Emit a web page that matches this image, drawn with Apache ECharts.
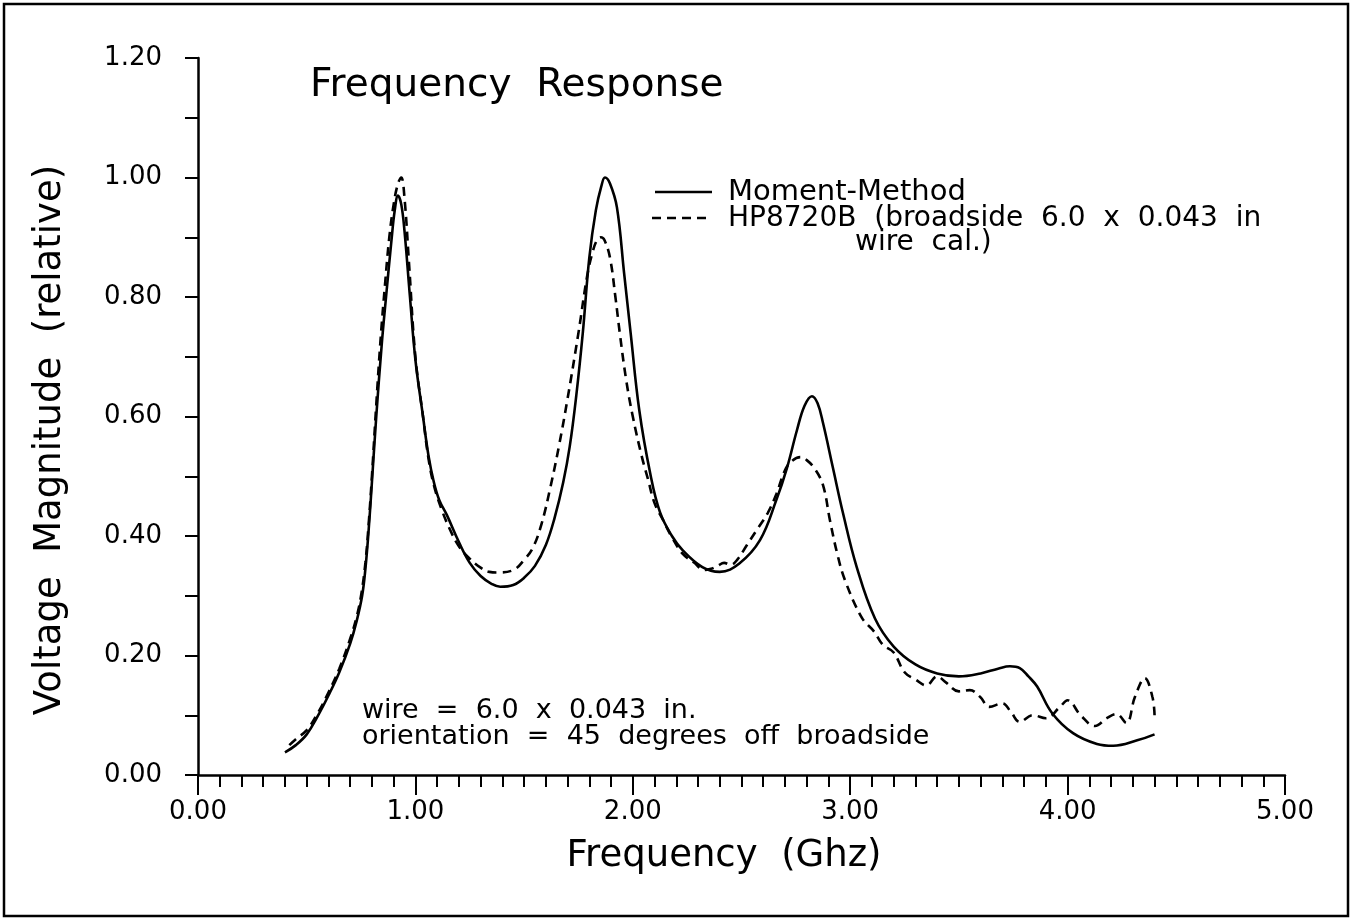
<!DOCTYPE html>
<html>
<head>
<meta charset="utf-8">
<script src="https://cdn.jsdelivr.net/npm/echarts@6/dist/echarts.min.js"></script>
<style>
  html, body { margin: 0; padding: 0; background: #ffffff; }
  #chart { width: 1351px; height: 919px; }
</style>
</head>
<body>
<div id="chart"></div>
<script>
// Computed response (moment method), frequency in GHz vs relative voltage
const momentFreq = [0.40, 0.45, 0.50, 0.55, 0.60, 0.65, 0.70, 0.73, 0.755, 0.77, 0.785, 0.80, 0.82, 0.845, 0.865, 0.89, 0.905, 0.92, 0.935, 0.95, 0.975, 1.00, 1.035, 1.06, 1.085, 1.11, 1.145, 1.20, 1.25, 1.30, 1.35, 1.39, 1.45, 1.50, 1.55, 1.60, 1.64, 1.68, 1.71, 1.74, 1.77, 1.80, 1.83, 1.855, 1.872, 1.895, 1.927, 1.96, 1.99, 2.03, 2.08, 2.125, 2.18, 2.23, 2.32, 2.40, 2.49, 2.585, 2.66, 2.71, 2.755, 2.79, 2.824, 2.85, 2.875, 2.92, 2.967, 3.03, 3.114, 3.20, 3.30, 3.40, 3.50, 3.60, 3.68, 3.735, 3.78, 3.82, 3.86, 3.93, 4.025, 4.135, 4.21, 4.32, 4.40];
const momentMag  = [0.038, 0.050, 0.068, 0.098, 0.133, 0.172, 0.220, 0.258, 0.300, 0.345, 0.410, 0.490, 0.600, 0.720, 0.800, 0.895, 0.945, 0.970, 0.955, 0.910, 0.800, 0.695, 0.600, 0.535, 0.490, 0.460, 0.435, 0.390, 0.355, 0.333, 0.320, 0.315, 0.318, 0.330, 0.350, 0.385, 0.430, 0.490, 0.550, 0.635, 0.740, 0.866, 0.945, 0.985, 1.000, 0.990, 0.950, 0.840, 0.740, 0.610, 0.505, 0.440, 0.400, 0.376, 0.348, 0.340, 0.354, 0.393, 0.460, 0.515, 0.577, 0.618, 0.634, 0.622, 0.589, 0.515, 0.438, 0.348, 0.262, 0.215, 0.185, 0.170, 0.165, 0.170, 0.178, 0.182, 0.179, 0.165, 0.148, 0.103, 0.070, 0.052, 0.049, 0.058, 0.068];

// Measured response (HP8720B network analyser)
const hpFreq = [0.42, 0.45, 0.50, 0.55, 0.60, 0.65, 0.70, 0.73, 0.75, 0.77, 0.785, 0.80, 0.82, 0.84, 0.86, 0.88, 0.90, 0.92, 0.935, 0.95, 0.97, 1.00, 1.035, 1.06, 1.085, 1.12, 1.16, 1.20, 1.25, 1.30, 1.34, 1.38, 1.45, 1.50, 1.54, 1.58, 1.62, 1.66, 1.70, 1.75, 1.79, 1.815, 1.835, 1.853, 1.87, 1.895, 1.92, 1.94, 1.97, 2.00, 2.04, 2.07, 2.10, 2.14, 2.18, 2.23, 2.28, 2.33, 2.36, 2.39, 2.42, 2.45, 2.48, 2.525, 2.57, 2.62, 2.66, 2.70, 2.73, 2.77, 2.80, 2.838, 2.875, 2.907, 2.94, 2.976, 3.054, 3.11, 3.15, 3.20, 3.25, 3.30, 3.35, 3.40, 3.44, 3.50, 3.55, 3.597, 3.64, 3.70, 3.74, 3.78, 3.84, 3.90, 3.965, 4.00, 4.06, 4.126, 4.18, 4.225, 4.27, 4.31, 4.355, 4.39, 4.40];
const hpMag  = [0.050, 0.060, 0.075, 0.103, 0.138, 0.178, 0.228, 0.265, 0.300, 0.355, 0.420, 0.500, 0.620, 0.730, 0.820, 0.900, 0.955, 0.990, 1.000, 0.965, 0.860, 0.700, 0.600, 0.530, 0.485, 0.445, 0.410, 0.383, 0.362, 0.347, 0.340, 0.339, 0.343, 0.360, 0.380, 0.420, 0.480, 0.550, 0.630, 0.740, 0.835, 0.875, 0.895, 0.900, 0.895, 0.866, 0.800, 0.740, 0.660, 0.600, 0.535, 0.495, 0.455, 0.426, 0.398, 0.370, 0.356, 0.343, 0.345, 0.350, 0.355, 0.352, 0.360, 0.385, 0.410, 0.438, 0.470, 0.510, 0.525, 0.532, 0.527, 0.512, 0.485, 0.426, 0.371, 0.326, 0.263, 0.240, 0.218, 0.205, 0.172, 0.160, 0.150, 0.165, 0.155, 0.140, 0.142, 0.131, 0.114, 0.120, 0.105, 0.089, 0.100, 0.095, 0.114, 0.125, 0.100, 0.082, 0.095, 0.102, 0.087, 0.131, 0.162, 0.131, 0.100];

const seriesNames = ['Moment-Method', 'HP8720B  (broadside  6.0  x  0.043  in'];
const legendSecondLine = 'wire  cal.)';
const noteLines = ['wire  =  6.0  x  0.043  in.', 'orientation  =  45  degrees  off  broadside'];
const titleText = 'Frequency  Response';
const xAxisName = 'Frequency  (Ghz)';
const yAxisName = 'Voltage  Magnitude  (relative)';

const FONT = 'DejaVu Sans';
const INK = '#000000';
const DASH = [9, 6];

function pairs(xs, ys) {
  return xs.map((x, i) => [x, ys[i]]);
}

const chart = echarts.init(document.getElementById('chart'), null, { renderer: 'canvas' });

const option = {
  backgroundColor: '#ffffff',
  animation: false,
  title: {
    text: titleText,
    left: 305,
    top: 61,
    textStyle: { fontFamily: FONT, fontWeight: 'normal', fontSize: 39, color: INK }
  },
  grid: { left: 198, right: 66, top: 58, bottom: 144 },
  xAxis: {
    type: 'value',
    min: 0,
    max: 5,
    interval: 1,
    axisLine: { onZero: false, lineStyle: { color: INK, width: 2.5 } },
    axisTick: { show: true, length: 20, lineStyle: { color: INK, width: 2 } },
    minorTick: { show: true, splitNumber: 10, length: 12, lineStyle: { color: INK, width: 2 } },
    splitLine: { show: false },
    axisLabel: {
      margin: 24,
      fontFamily: FONT,
      fontSize: 26,
      color: INK,
      formatter: v => v.toFixed(2)
    }
  },
  yAxis: {
    type: 'value',
    min: 0,
    max: 1.2,
    interval: 0.2,
    axisLine: { onZero: false, lineStyle: { color: INK, width: 2.5 } },
    axisTick: { show: true, length: 13, lineStyle: { color: INK, width: 2 } },
    minorTick: { show: true, splitNumber: 2, length: 13, lineStyle: { color: INK, width: 2 } },
    splitLine: { show: false },
    axisLabel: {
      margin: 36,
      fontFamily: FONT,
      fontSize: 26,
      color: INK,
      formatter: v => v.toFixed(2)
    }
  },
  series: [
    {
      name: seriesNames[0],
      type: 'line',
      data: pairs(momentFreq, momentMag),
      showSymbol: false,
      symbol: 'none',
      smooth: 0.4,
      lineStyle: { color: INK, width: 2.6, type: 'solid' },
      itemStyle: { color: INK }
    },
    {
      name: seriesNames[1],
      type: 'line',
      data: pairs(hpFreq, hpMag),
      showSymbol: false,
      symbol: 'none',
      smooth: 0.4,
      lineStyle: { color: INK, width: 2.6, type: DASH },
      itemStyle: { color: INK }
    }
  ],
  graphic: [
    // outer frame
    {
      type: 'rect',
      shape: { x: 4, y: 4, width: 1344, height: 912 },
      style: { fill: null, stroke: INK, lineWidth: 2.5 },
      silent: true
    },
    // axis names
    {
      type: 'text',
      x: 50,
      y: 440,
      rotation: Math.PI / 2,
      style: { text: yAxisName, font: '37px "DejaVu Sans"', fill: INK, align: 'center', verticalAlign: 'middle' }
    },
    {
      type: 'text',
      x: 724,
      y: 856,
      style: { text: xAxisName, font: '37px "DejaVu Sans"', fill: INK, align: 'center', verticalAlign: 'middle' }
    },
    // key
    {
      type: 'line',
      shape: { x1: 655, y1: 192, x2: 712, y2: 192 },
      style: { stroke: INK, lineWidth: 2.6 }
    },
    {
      type: 'line',
      shape: { x1: 652, y1: 218, x2: 712, y2: 218 },
      style: { stroke: INK, lineWidth: 2.6, lineDash: DASH }
    },
    {
      type: 'text',
      x: 728,
      y: 192,
      style: { text: seriesNames[0], font: '29px "DejaVu Sans"', fill: INK, verticalAlign: 'middle' }
    },
    {
      type: 'text',
      x: 728,
      y: 219,
      style: { text: seriesNames[1], font: '28px "DejaVu Sans"', fill: INK, verticalAlign: 'middle' }
    },
    {
      type: 'text',
      x: 855,
      y: 243,
      style: { text: legendSecondLine, font: '28px "DejaVu Sans"', fill: INK, verticalAlign: 'middle' }
    },
    // wire description
    {
      type: 'text',
      x: 362,
      y: 711,
      style: { text: noteLines[0], font: '27px "DejaVu Sans"', fill: INK, verticalAlign: 'middle' }
    },
    {
      type: 'text',
      x: 362,
      y: 737,
      style: { text: noteLines[1], font: '27px "DejaVu Sans"', fill: INK, verticalAlign: 'middle' }
    }
  ]
};

chart.setOption(option);
</script>
</body>
</html>
